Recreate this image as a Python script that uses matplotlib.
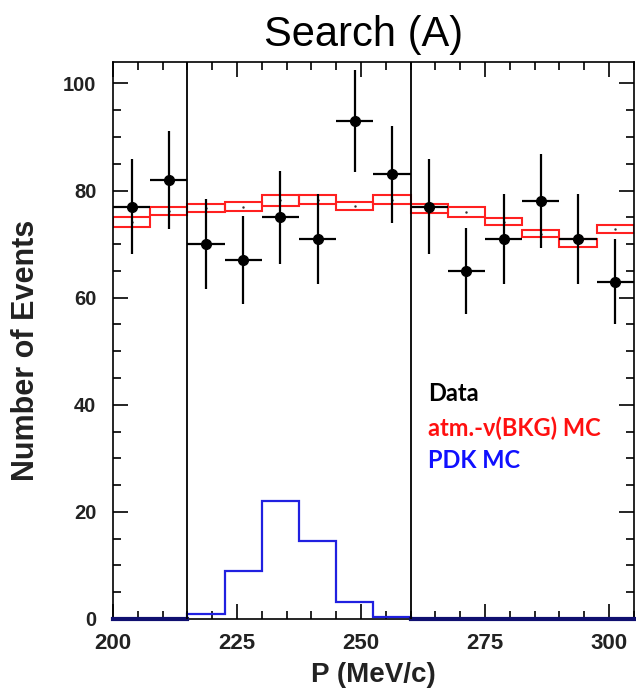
import numpy as np
import matplotlib.pyplot as plt
from matplotlib.ticker import MultipleLocator

# bins of 7.5 MeV/c from 200 to 305
bin_edges = [200, 207.5, 215, 222.5, 230, 237.5, 245, 252.5, 260,
             267.5, 275, 282.5, 290, 297.5, 305]
bin_centers = [203.75, 211.25, 218.75, 226.25, 233.75, 241.25, 248.75,
               256.25, 263.75, 271.25, 278.75, 286.25, 293.75, 301.25]

data_counts = [77, 82, 70, 67, 75, 71, 93, 83, 77, 65, 71, 78, 71, 63]
data_err = [8.8, 9.1, 8.4, 8.2, 8.7, 8.4, 9.6, 9.1, 8.8, 8.1, 8.4, 8.8, 8.4, 7.9]

bkg_low = [73.2, 75.5, 76.0, 76.1, 77.2, 77.5, 76.4, 77.5,
           75.8, 75.1, 73.5, 71.3, 69.5, 72.0]
bkg_high = [75.0, 77.0, 77.4, 77.9, 79.1, 79.1, 77.9, 79.1,
            77.5, 76.9, 74.9, 72.6, 71.0, 73.5]

pdk_mc = [0, 0, 1.0, 9.0, 22.1, 14.5, 3.2, 0.4, 0, 0, 0, 0, 0, 0]

window = [215, 260]


def main():
    fig = plt.figure(figsize=(6.36, 6.93), dpi=100)
    ax = fig.add_axes([0.1777, 0.1068, 0.8190, 0.8037])

    # atm. nu background band, one box per bin
    widths = np.diff(bin_edges)
    heights = np.array(bkg_high) - np.array(bkg_low)
    ax.bar(bin_edges[:-1], heights, width=widths, bottom=bkg_low, align="edge",
           fill=False, edgecolor="#ff2020", linewidth=1.5, zorder=2)
    ax.plot(bin_centers, (np.array(bkg_high) + np.array(bkg_low)) / 2, ls="none",
            marker=".", ms=1.5, color="#333333", zorder=2)

    # PDK signal MC
    ax.stairs(pdk_mc, bin_edges, color="#2020e0", linewidth=1.6, zorder=3)
    ax.plot([200, 215], [0, 0], color="#101070", lw=3, clip_on=False, zorder=4)
    ax.plot([260, 305], [0, 0], color="#101070", lw=3, clip_on=False, zorder=4)

    # data
    ax.errorbar(bin_centers, data_counts, yerr=data_err, xerr=3.75, fmt="o",
                color="black", ms=7, elinewidth=1.6, capsize=0, zorder=5)

    for x in window:
        ax.axvline(x, color="black", lw=1.3, zorder=4)

    ax.set_xlim(200, 305)
    ax.set_ylim(0, 104)
    ax.xaxis.set_major_locator(MultipleLocator(25))
    ax.xaxis.set_minor_locator(MultipleLocator(5))
    ax.yaxis.set_major_locator(MultipleLocator(20))
    ax.yaxis.set_minor_locator(MultipleLocator(5))
    ax.tick_params(which="both", direction="in", top=True, right=True,
                   width=1.2)
    ax.tick_params(which="major", length=11)
    ax.tick_params(which="minor", length=6)
    ax.tick_params(axis="x", which="major", labelsize=16, pad=10)
    ax.tick_params(axis="y", which="major", labelsize=14.5, pad=12)
    for lab in ax.get_xticklabels() + ax.get_yticklabels():
        lab.set_fontweight("bold")
        lab.set_family("Liberation Sans")
        lab.set_color("#222222")
    for s in ax.spines.values():
        s.set_linewidth(1.2)

    ax.set_xlabel("P (MeV/c)", fontsize=20, fontweight="bold",
                  family="Liberation Sans", color="#222222", labelpad=6)
    ax.set_ylabel("Number of Events", fontsize=22, fontweight="bold",
                  family="Liberation Sans", color="#222222", labelpad=16)
    ax.yaxis.label.set_y(0.483)
    fig.text(0.572, 0.950, "Search (A)", fontsize=30, family="Liberation Sans",
             ha="center", va="center")

    ax.text(0.604, 0.404, "Data", transform=ax.transAxes, fontsize=17,
            fontweight="bold", family="Lato", color="black", va="center")
    ax.text(0.604, 0.343, "atm.-\u03bd(BKG) MC", transform=ax.transAxes,
            fontsize=17, fontweight="bold", family="Lato", color="#ff1010",
            va="center")
    ax.text(0.604, 0.284, "PDK MC", transform=ax.transAxes, fontsize=17,
            fontweight="bold", family="Lato", color="#1010ff", va="center")

    plt.savefig("out.png", dpi=100)


if __name__ == "__main__":
    main()
